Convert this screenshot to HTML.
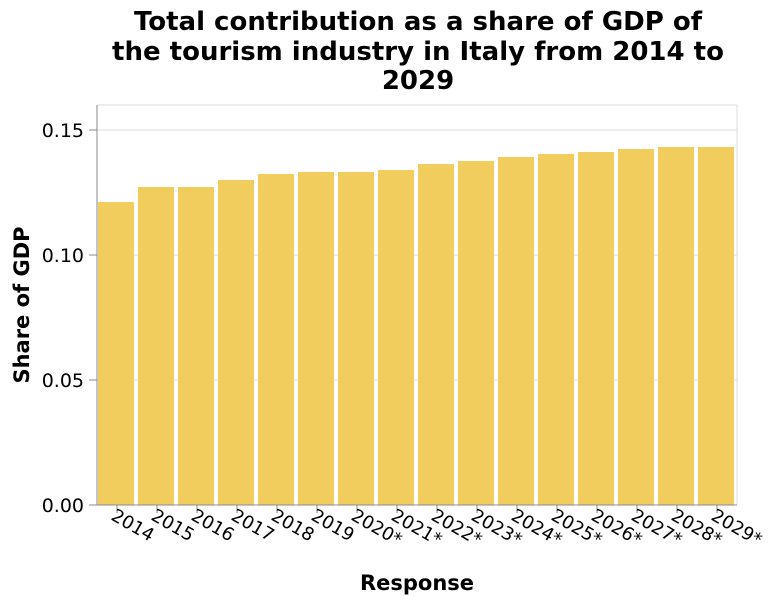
<!DOCTYPE html>
<html><head><meta charset="utf-8"><style>
body{margin:0;background:#fff;}
svg text{font-family:"DejaVu Sans","Liberation Sans",sans-serif;}
</style></head><body>
<svg width="776" height="606" xmlns="http://www.w3.org/2000/svg" id="chart">
<g font-weight="bold" font-size="26" text-anchor="middle" fill="#000">
<text x="418" y="30">Total contribution as a share of GDP of</text>
<text x="418" y="60">the tourism industry in Italy from 2014 to</text>
<text x="418" y="89">2029</text>
</g>
<g id="grid"></g>
<g id="bars"></g>
<g id="axes"></g>
<text x="417" y="590" text-anchor="middle" font-weight="bold" font-size="21">Response</text>
<text transform="translate(29,305) rotate(-90)" text-anchor="middle" font-weight="bold" font-size="21">Share of GDP</text>
</svg>
<script>
const categories=["2014","2015","2016","2017","2018","2019","2020*","2021*","2022*","2023*","2024*","2025*","2026*","2027*","2028*","2029*"];
const values=[0.1212,0.1272,0.1272,0.1300,0.1324,0.1332,0.1332,0.1340,0.1364,0.1376,0.1392,0.1404,0.1412,0.1424,0.1432,0.1432];
const yTicks=[0,0.05,0.10,0.15];
const yTickLabels=["0.00","0.05","0.10","0.15"];
const NS="http://www.w3.org/2000/svg";
const L=97,R=737,T=105,B=505,yMax=0.16;
const band=(R-L)/categories.length;
const y=v=>B-(v/yMax)*(B-T);
const x=i=>L+i*band;
function mk(tag,attrs,parent){const e=document.createElementNS(NS,tag);for(const k in attrs)e.setAttribute(k,attrs[k]);parent.appendChild(e);return e;}
const grid=document.getElementById('grid'),bars=document.getElementById('bars'),axes=document.getElementById('axes');
yTicks.forEach((t,i)=>{
  const g=mk('line',{x1:L,x2:R,y1:y(t),y2:y(t),stroke:'#ddd','stroke-width':1},grid);
  
  
  mk('line',{x1:L-8,x2:L,y1:y(t),y2:y(t),stroke:'#888'},axes);
  const lb=mk('text',{x:L-13,y:y(t)+7,'text-anchor':'end','font-size':19,fill:'#000'},axes);
  lb.textContent=yTickLabels[i];
  
  
});
mk('line',{x1:L,x2:R,y1:T,y2:T,stroke:'#ddd'},grid);
mk('line',{x1:R,x2:R,y1:T,y2:B,stroke:'#ddd'},grid);
categories.forEach((c,i)=>{
  const r=mk('rect',{x:x(i)+1,y:y(values[i]),width:band-4,height:B-y(values[i]),fill:'#f0cd5c'},bars);
  
  
  const cx=x(i)+band/2;
  mk('line',{x1:cx,x2:cx,y1:B,y2:B+8,stroke:'#888'},axes);
  const lb=mk('text',{transform:`translate(${cx-7},${B+14}) rotate(30)`,'font-size':18,fill:'#000'},axes);
  lb.textContent=c;
  
  
});
mk('line',{x1:L,x2:L,y1:T,y2:B,stroke:'#888'},axes);
mk('line',{x1:L,x2:R,y1:B,y2:B,stroke:'#888'},axes);
</script>
</body></html>
